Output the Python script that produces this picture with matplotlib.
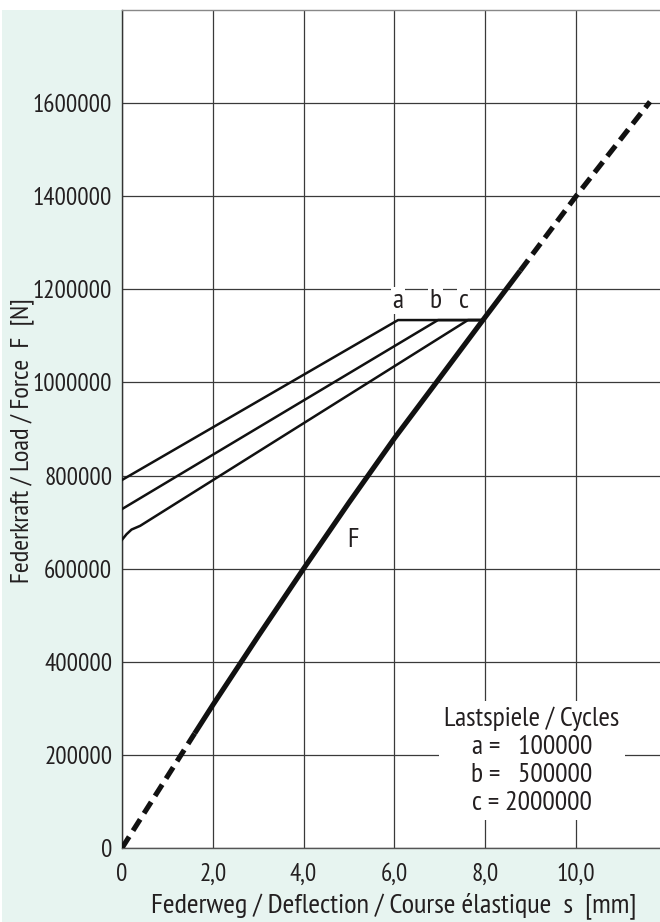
import matplotlib.pyplot as plt
from matplotlib.patches import Rectangle

plt.rcParams['font.family'] = ['PT Sans Narrow', 'DejaVu Sans']
plt.rcParams['font.stretch'] = 'condensed'

# spring curve F (deflection in mm, force in N)
F_x = [0, 1.6, 2.0, 3.0, 4.0, 5.0, 6.0, 7.0, 7.95, 8.77, 10.0, 11.63]
F_y = [0, 246000, 307000, 455000, 600000, 742000, 880000, 1010000, 1134000, 1240000,
       1400000, 1603000]
solid_start = 1
solid_end = 9

# fatigue limit lines for cycles a, b, c
a_x = [0, 6.08, 7.95]
a_y = [790500, 1134000, 1134000]
b_x = [0, 6.96, 7.95]
b_y = [728000, 1134000, 1134000]
c_x = [0, 0.1, 0.21, 0.4, 7.62, 7.95]
c_y = [662000, 674000, 684000, 692000, 1134000, 1134000]

x_ticks = [0, 2, 4, 6, 8, 10]
x_ticklabels = ['0', '2,0', '4,0', '6,0', '8,0', '10,0']
y_ticks = [0, 200000, 400000, 600000, 800000, 1000000, 1200000, 1400000, 1600000]

cycle_names = ['a', 'b', 'c']
cycle_label_x = [6.08, 6.9, 7.53]
cycles_text = 'Lastspiele / Cycles\na =   100000\nb =   500000\nc = 2000000'

txt = '#231f20'
green = '#e7f4f0'

fig = plt.figure(figsize=(6.6, 9.22), dpi=100)
fig.patch.set_facecolor('white')
fig.patches.append(Rectangle((2 / 660, 0), 1, (922 - 10) / 922, transform=fig.transFigure,
                             facecolor=green, edgecolor='none', zorder=-10))

ax = fig.add_axes([122 / 660, 74 / 922, 1 - 122 / 660, (848 - 10) / 922])
ax.set_facecolor('white')
ax.set_xlim(0, 11.85)
ax.set_ylim(0, 1800000)

ax.set_xticks(x_ticks)
ax.set_xticklabels(x_ticklabels)
ax.set_yticks(y_ticks)
ax.set_yticklabels([str(v) for v in y_ticks])
ax.tick_params(length=0, labelsize=18, labelcolor=txt)
ax.tick_params(axis='x', pad=11)
ax.tick_params(axis='y', pad=7)
ax.grid(True, color='#3a3a3a', linewidth=0.9)
ax.set_axisbelow(True)
ax.spines['right'].set_visible(False)
ax.spines['top'].set_color('#888888')
ax.spines['left'].set_color('#333333')
ax.spines['bottom'].set_color('#555555')
for side in ['top', 'left', 'bottom']:
    ax.spines[side].set_linewidth(1.0)

# F curve: dashed ends, solid middle
ax.plot(F_x[:solid_start + 1], F_y[:solid_start + 1], color='#111111', lw=3.7,
        dashes=(2.6, 1.4), dash_capstyle='butt', zorder=4)
ax.plot(F_x[solid_start:solid_end + 1], F_y[solid_start:solid_end + 1], color='#111111',
        lw=3.7, solid_capstyle='butt', zorder=4)
ax.plot(F_x[solid_end:], F_y[solid_end:], color='#111111', lw=3.7,
        dashes=(2.6, 1.4), dash_capstyle='butt', zorder=4)

for xs, ys in [(a_x, a_y), (b_x, b_y), (c_x, c_y)]:
    ax.plot(xs, ys, color='#111111', lw=1.8, zorder=3)

for name, lx in zip(cycle_names, cycle_label_x):
    ax.text(lx, 1176000, name, fontsize=20, color=txt, ha='center', va='center', zorder=5,
            bbox=dict(facecolor='white', edgecolor='none', pad=1.2))

ax.text(5.09, 661500, 'F', fontsize=20, color=txt, ha='center', va='center', zorder=5)

ax.text(9.03, 187000, cycles_text, fontsize=20, color=txt, ha='center', va='center',
        multialignment='center', linespacing=1.2, zorder=5,
        bbox=dict(facecolor='white', edgecolor='none', pad=4))

fig.text(0.034, 0.522, 'Federkraft / Load / Force  F  [N]', rotation=90, fontsize=19,
         color=txt, ha='center', va='center')
fig.text(0.597, 0.018, 'Federweg / Deflection / Course élastique  s  [mm]', fontsize=20.5,
         color=txt, ha='center', va='center')

fig.savefig('out.png', dpi=100, facecolor=fig.get_facecolor())
